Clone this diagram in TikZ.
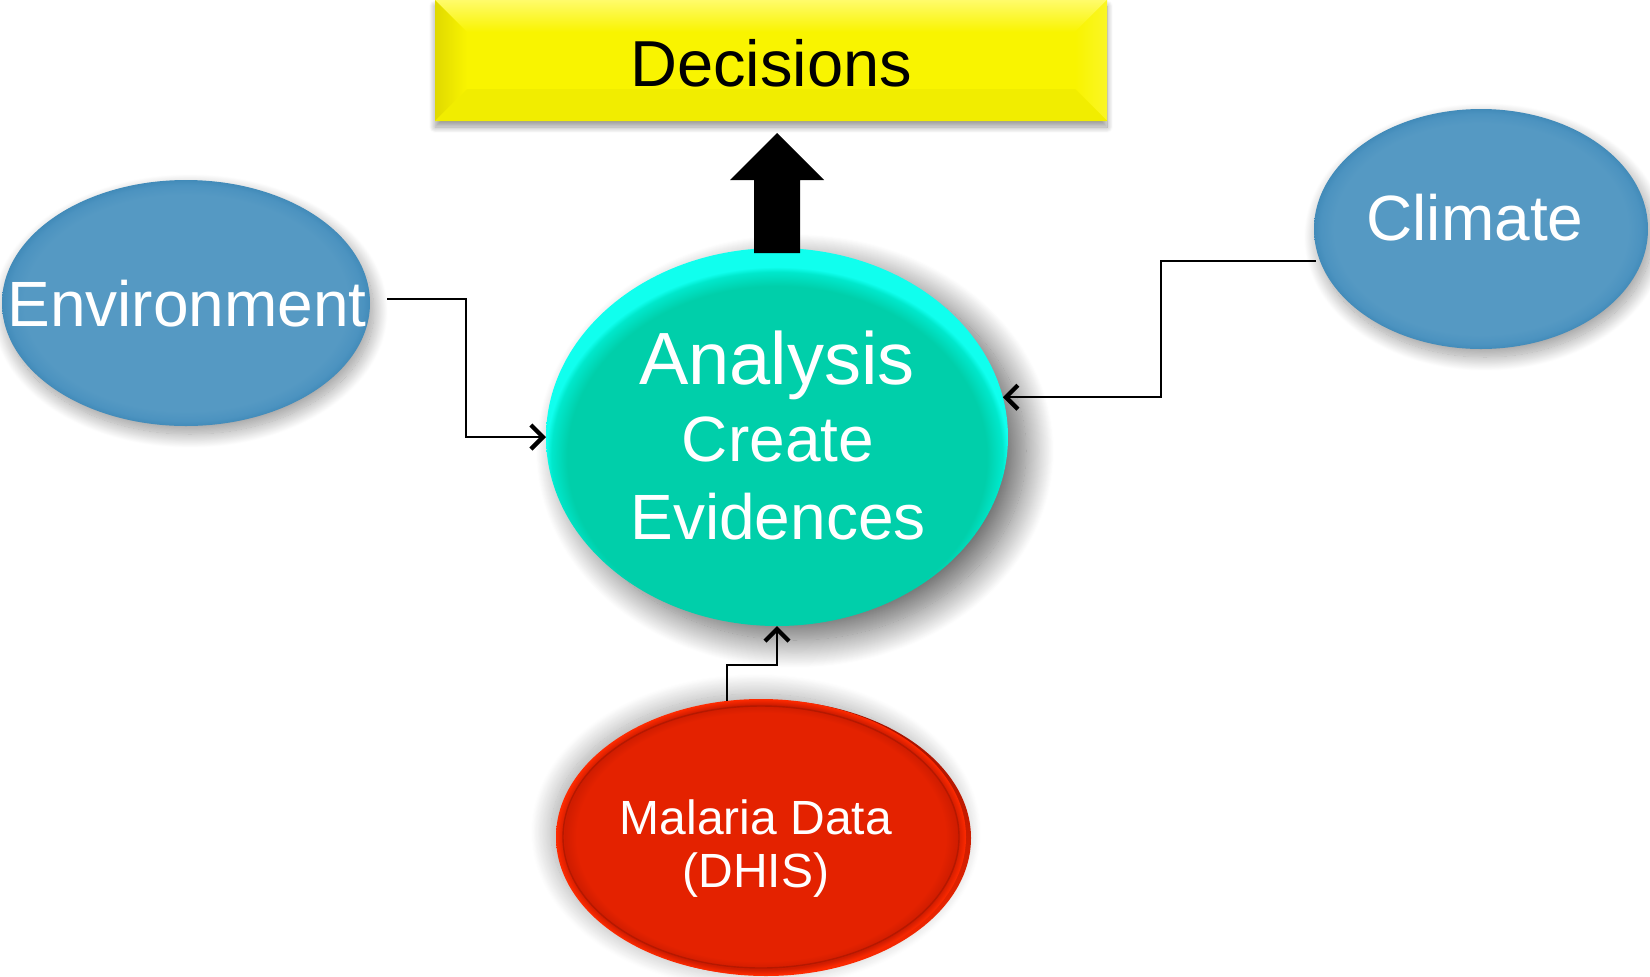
\documentclass[tikz,border=0pt]{standalone}
\usepackage{fontspec}
\setmainfont{Liberation Sans}
\usetikzlibrary{shapes.geometric,arrows.meta,shadows.blur}
\definecolor{yel}{HTML}{F9F400}
\definecolor{yelTop}{HTML}{FFFB6A}
\definecolor{yelDark}{HTML}{E0D900}
\definecolor{blueC}{HTML}{5599C3}
\definecolor{blueR}{HTML}{4C93C0}
\definecolor{blueE}{HTML}{428BB9}
\definecolor{tealC}{HTML}{00CFAA}
\definecolor{tealM}{HTML}{00E8CC}
\definecolor{tealE}{HTML}{10FFEE}
\definecolor{redC}{HTML}{E42200}
\definecolor{redD}{HTML}{CF1C00}
\definecolor{redE}{HTML}{FF2A00}
\definecolor{redBack}{HTML}{9A1000}
\definecolor{redLine}{HTML}{B51800}
\pgfdeclareradialshading{bluedisc}{\pgfpoint{0bp}{0bp}}{color(0bp)=(blueC); color(22bp)=(blueC); color(24bp)=(blueR); color(25bp)=(blueE); color(50bp)=(blueE)}
\pgfdeclareradialshading{tealdisc}{\pgfpoint{0bp}{-5bp}}{color(0bp)=(tealC); color(22.7bp)=(tealC); color(24.4bp)=(tealM); color(25bp)=(tealE); color(50bp)=(tealE)}
\pgfdeclareradialshading{reddisc}{\pgfpoint{0bp}{0bp}}{color(0bp)=(redC); color(22.5bp)=(redC); color(24bp)=(redD); color(25bp)=(redE); color(50bp)=(redE)}
\begin{document}
\begin{tikzpicture}[x=0.5pt,y=-0.5pt,
  ell/.style={ellipse, inner sep=0pt, outer sep=0pt},
  lbl/.style={anchor=base, text=white, inner sep=0pt},
  conn/.style={line width=1pt, -{Straight Barb[length=6pt,width=12pt,line width=2.2pt]}},
  bluesh/.style={blur shadow={shadow xshift=2pt, shadow yshift=-4pt, shadow blur radius=7pt, shadow blur steps=25, shadow opacity=40}}
]
\useasboundingbox (0,0) rectangle (1650,976);

% Decisions box
\node[rectangle, inner sep=0pt, outer sep=0pt, minimum width=336pt, minimum height=60.5pt,
  fill=yel, blur shadow={shadow xshift=0pt, shadow yshift=-3pt, shadow blur radius=3pt, shadow blur steps=15, shadow opacity=40}] (dec) at (771,60.5) {};
\coordinate (iNW) at ([xshift=16pt,yshift=-16pt]dec.north west);
\coordinate (iNE) at ([xshift=-16pt,yshift=-16pt]dec.north east);
\coordinate (iSE) at ([xshift=-16pt,yshift=16pt]dec.south east);
\coordinate (iSW) at ([xshift=16pt,yshift=16pt]dec.south west);
\shade[top color=yelTop, bottom color=yel] (dec.north west) -- (dec.north east) -- (iNE) -- (iNW) -- cycle;
\shade[left color=yelDark, right color=yel] (dec.north west) -- (iNW) -- (iSW) -- (dec.south west) -- cycle;
\shade[left color=yel, right color=yel!85!white] (dec.north east) -- (iNE) -- (iSE) -- (dec.south east) -- cycle;
\fill[yel!97!black] (dec.south west) -- (iSW) -- (iSE) -- (dec.south east) -- cycle;
\node[anchor=base, inner sep=0pt, font=\fontsize{32.5}{38}\selectfont] (decT) at (771,86) {Decisions};

% Analysis
\node[ell, minimum width=231pt, minimum height=189pt, shading=tealdisc,
  blur shadow={shadow xshift=9pt, shadow yshift=-7pt, shadow blur radius=14pt, shadow blur steps=30, shadow opacity=60}] (ana) at (777,437) {};
\node[lbl, font=\fontsize{37}{44}\selectfont] (anaT1) at (777,384) {Analysis};
\node[lbl, font=\fontsize{32}{38}\selectfont] (anaT2) at (778,461) {Create};
\node[lbl, font=\fontsize{32}{38}\selectfont] (anaT3) at (778,539) {Evidences};

% Environment
\node[ell, minimum width=184pt, minimum height=123pt, shading=bluedisc, bluesh] (env) at (186,303) {};
\node[lbl, font=\fontsize{32}{38}\selectfont] (envT) at (187,326) {Environment};

% Climate
\node[ell, minimum width=167pt, minimum height=120pt, shading=bluedisc, bluesh] (cli) at (1481,229) {};
\node[lbl, font=\fontsize{32}{38}\selectfont] (cliT) at (1475,240) {Climate};

% Malaria
\shade[top color=redBack, bottom color=redE,
  blur shadow={shadow xshift=-5pt, shadow yshift=3pt, shadow blur radius=10pt, shadow blur steps=25, shadow opacity=35}]
  (766,838) ellipse [x radius=102.5pt, y radius=69pt];
\node[ell, minimum width=205pt, minimum height=138pt, shading=reddisc] (mal) at (761,837) {};
\draw[redLine, line width=0.7pt] (mal.center) ellipse [x radius=99pt, y radius=65.5pt];
\node[lbl, font=\fontsize{24}{29}\selectfont] (malT1) at (756,834) {Malaria Data};
\node[lbl, font=\fontsize{24}{29}\selectfont] (malT2) at (756,887) {(DHIS)};

% big arrow
\path (ana.north |- dec.south) coordinate (tb);
\coordinate (tip) at ([yshift=-6pt]tb);
\fill[black] (tip) -- ++(47,47) -- ++(-24,0) -- ++(0,73) -- ++(-46,0) -- ++(0,-73) -- ++(-24,0) -- cycle;

% connectors
\coordinate (envout) at (387,299);
\coordinate (cliout) at (1316,261);
\draw[conn] (envout) -- ++(79,0) |- (ana.west);
\draw[conn] (cliout) -- ++(-155,0) |- (ana.10);
\draw[conn] (mal.104) -- ++(0,-36) -| (ana.south);
\end{tikzpicture}
\end{document}
